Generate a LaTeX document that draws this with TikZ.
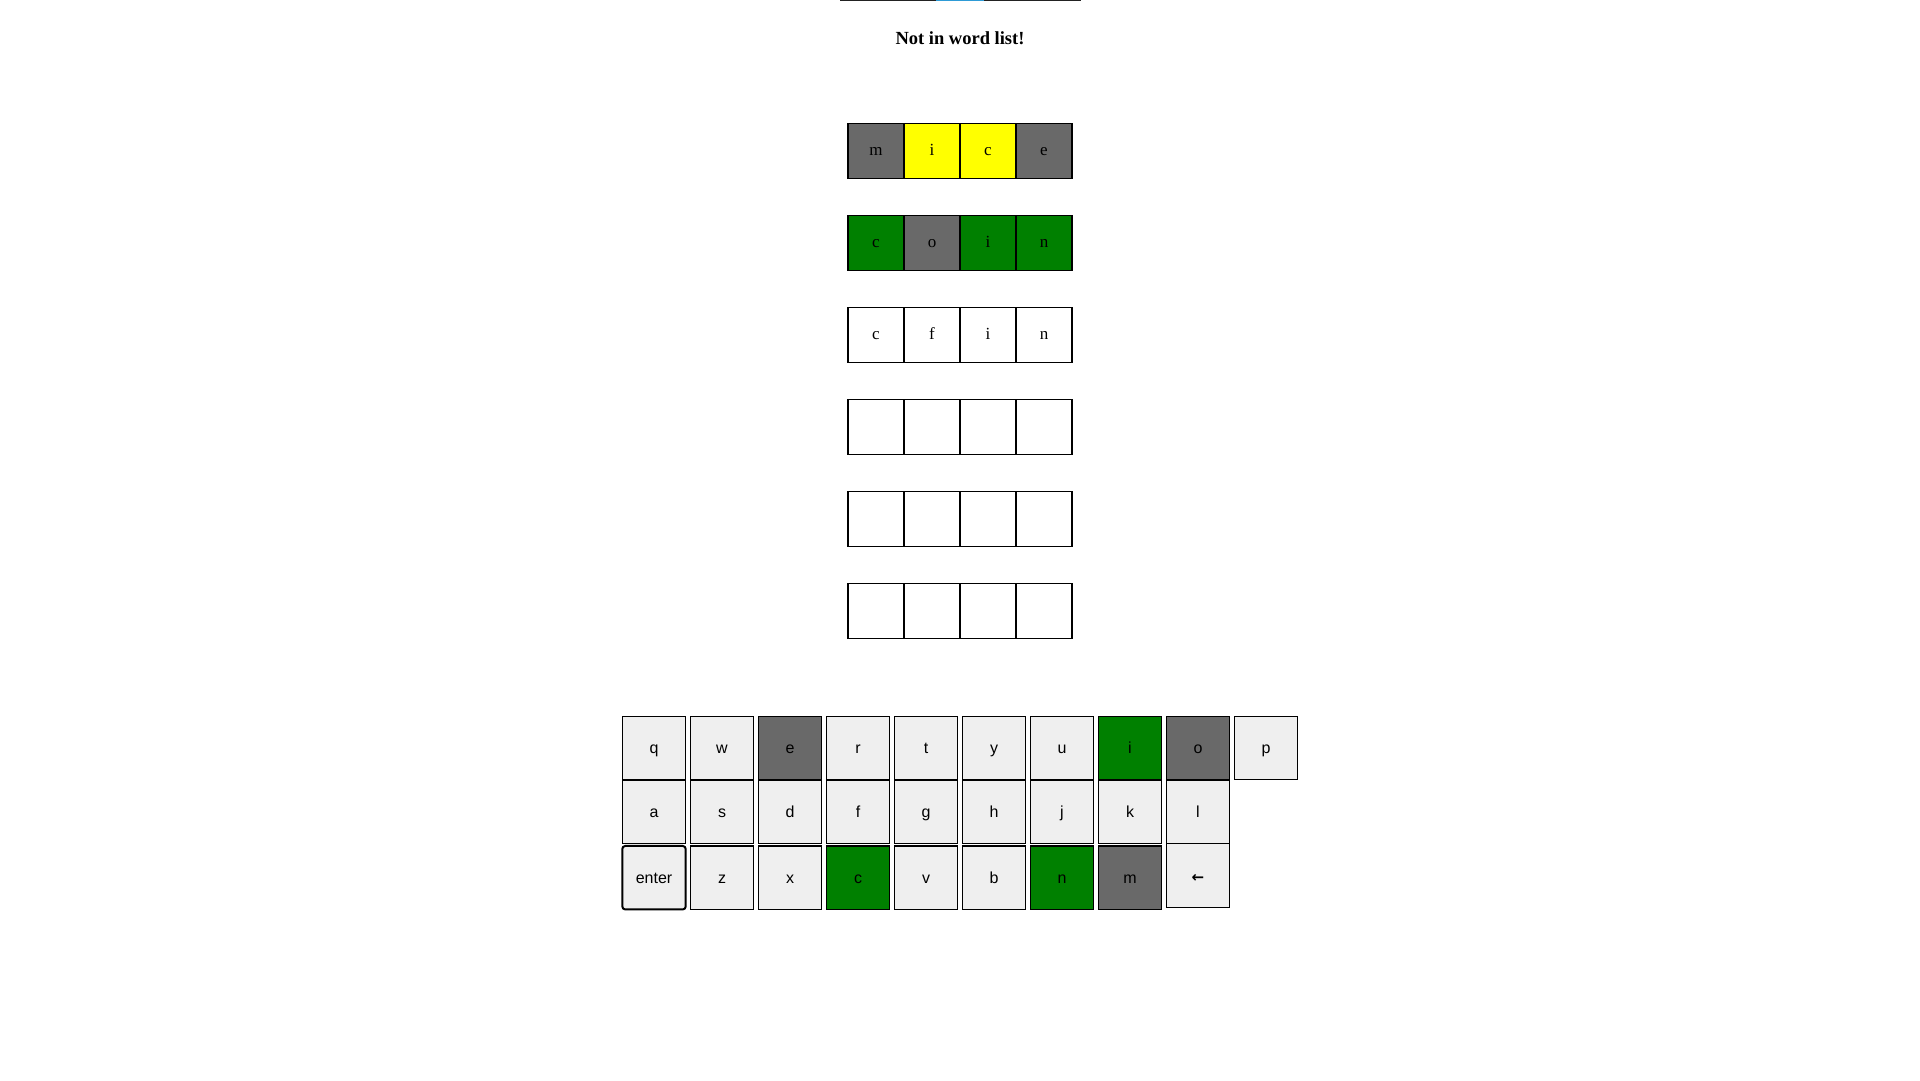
\documentclass[tikz,border=0pt]{standalone}
\usepackage{fontspec}
\setmainfont{Liberation Serif}
\newfontfamily\keyfont{Liberation Sans}
\newfontfamily\arrowfont{DejaVu Sans}
\definecolor{tgray}{HTML}{696969}
\definecolor{tgreen}{HTML}{008000}
\definecolor{tyellow}{HTML}{FFFF00}
\definecolor{keybg}{HTML}{EFEFEF}
\definecolor{barblue}{HTML}{2E9BD6}
\definecolor{bardark}{HTML}{222222}
\tikzset{
  tile/.style={draw=black, line width=1.3pt, minimum width=56pt, minimum height=55pt,
    inner sep=0pt, font=\fontsize{17}{17}\selectfont, text height=10pt, text depth=0pt},
  kbkey/.style={draw=black, line width=1.1pt, fill=keybg, minimum width=63.4pt, minimum height=63.5pt,
    inner sep=0pt, font=\keyfont\fontsize{16}{16}\selectfont, text height=10.6pt, text depth=0pt},
  entkey/.style={kbkey, line width=2pt, rounded corners=3pt},
}
\begin{document}
\begin{tikzpicture}[x=1pt,y=-1pt]
\useasboundingbox (0,0) rectangle (1920,1080);
% top bar
\coordinate (barL) at (840,0.5);
\coordinate (barR) at (1081,0.5);
\coordinate (blueL) at (936,0.5);
\coordinate (blueR) at (984,0.5);
\draw[bardark, line width=1.2pt] (barL) -- (barR);
\draw[barblue, line width=1.2pt] (blueL) -- (blueR);
% title
\node[anchor=base, font=\bfseries\fontsize{18.5}{18.5}\selectfont, inner sep=0pt] (title) at (960,44.3) {Not in word list!};
% board
\newcommand{\tl}[4]{\node[tile, fill=#3] (t-#1-#2) at ({876+56*#2},{150.8+92*#1}) {#4};}
\tl{0}{0}{tgray}{m}\tl{0}{1}{tyellow}{i}\tl{0}{2}{tyellow}{c}\tl{0}{3}{tgray}{e}
\tl{1}{0}{tgreen}{c}\tl{1}{1}{tgray}{o}\tl{1}{2}{tgreen}{i}\tl{1}{3}{tgreen}{n}
\tl{2}{0}{white}{c}\tl{2}{1}{white}{f}\tl{2}{2}{white}{i}\tl{2}{3}{white}{n}
\foreach \r in {3,4,5}{\foreach \c in {0,1,2,3}{\tl{\r}{\c}{white}{}}}
% keyboard
\newcommand{\ky}[5]{\node[kbkey, fill=#4] (k-#5) at ({654+68*#1},#2) {#3};}
\ky{0}{748}{q}{keybg}{q}\ky{1}{748}{w}{keybg}{w}\ky{2}{748}{e}{tgray}{e}\ky{3}{748}{r}{keybg}{r}
\ky{4}{748}{t}{keybg}{t}\ky{5}{748}{y}{keybg}{y}\ky{6}{748}{u}{keybg}{u}\ky{7}{748}{i}{tgreen}{i}
\ky{8}{748}{o}{tgray}{o}\ky{9}{748}{p}{keybg}{p}
\ky{0}{811.7}{a}{keybg}{a}\ky{1}{811.7}{s}{keybg}{s}\ky{2}{811.7}{d}{keybg}{d}\ky{3}{811.7}{f}{keybg}{f}
\ky{4}{811.7}{g}{keybg}{g}\ky{5}{811.7}{h}{keybg}{h}\ky{6}{811.7}{j}{keybg}{j}\ky{7}{811.7}{k}{keybg}{k}
\ky{8}{811.7}{l}{keybg}{l}
\node[entkey] (k-enter) at (654,877.7) {enter};
\ky{1}{877.7}{z}{keybg}{z}\ky{2}{877.7}{x}{keybg}{x}\ky{3}{877.7}{c}{tgreen}{c}\ky{4}{877.7}{v}{keybg}{v}
\ky{5}{877.7}{b}{keybg}{b}\ky{6}{877.7}{n}{tgreen}{n}\ky{7}{877.7}{m}{tgray}{m}
\node[kbkey, font=\arrowfont\bfseries\fontsize{15}{15}\selectfont, text height=13pt] (k-back) at (1198,875.5) {←};
\end{tikzpicture}
\end{document}
